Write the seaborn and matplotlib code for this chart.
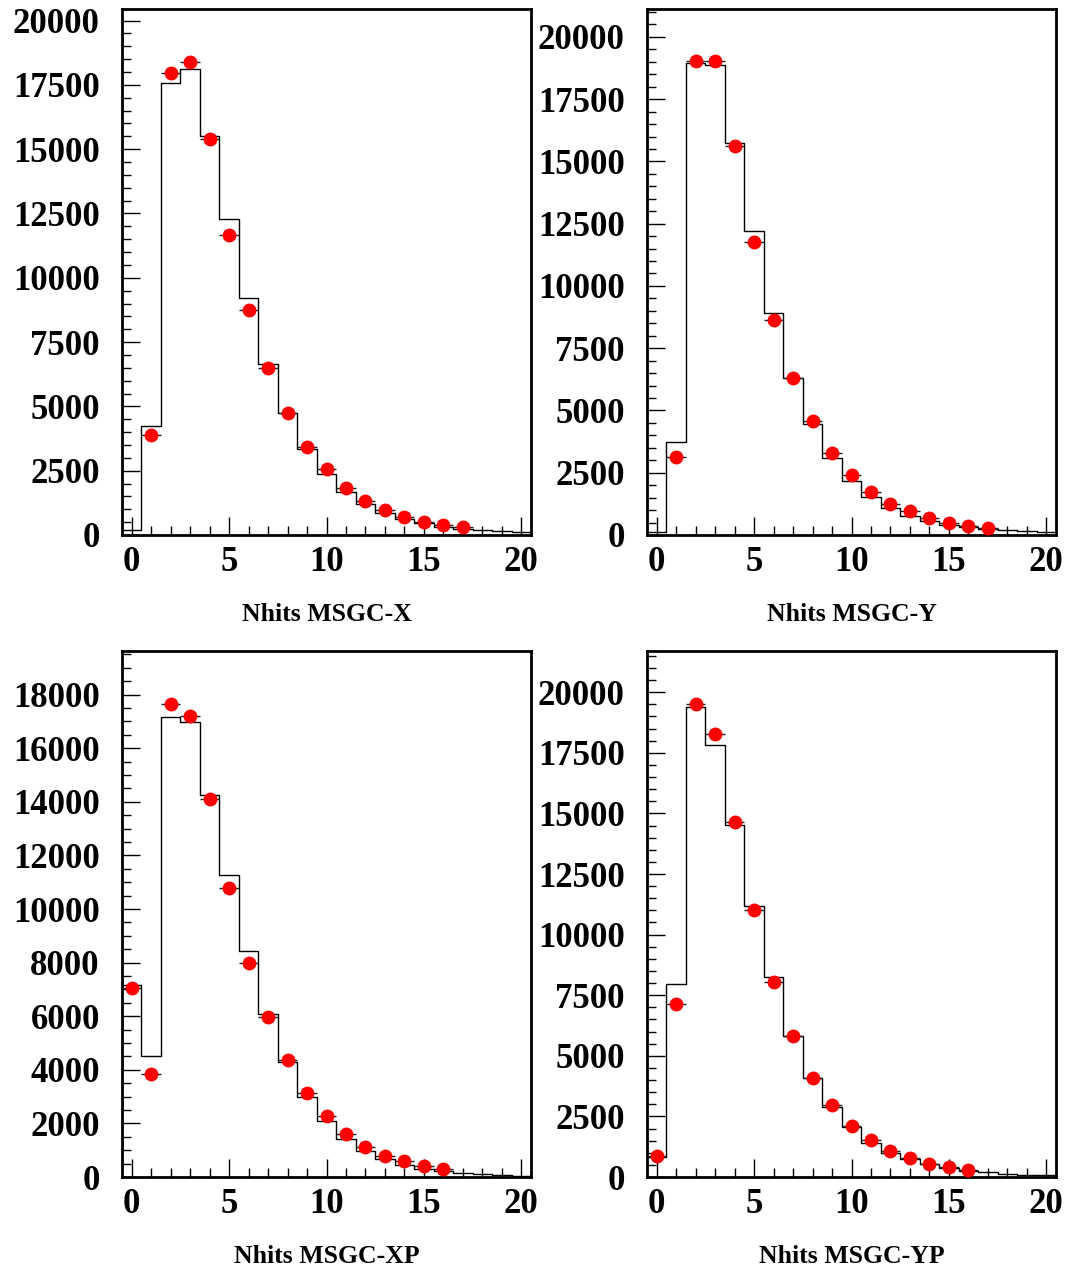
import numpy as np
import pandas as pd
import matplotlib
matplotlib.use("Agg")
import matplotlib.pyplot as plt
from matplotlib.ticker import MultipleLocator
import seaborn as sns

# bin contents (bins centred on 0..20, width 1) - simulation histogram
nbins = np.arange(0, 21)
hist_x = [200, 4220, 17560, 18130, 15525, 12290, 9230, 6650, 4730, 3330, 2370,
          1660, 1190, 840, 620, 455, 325, 233, 195, 140, 100]
hist_y = [125, 3740, 18950, 18860, 15740, 12210, 8930, 6320, 4450, 3100, 2160,
          1510, 1090, 770, 570, 420, 310, 245, 195, 155, 115]
hist_xp = [7160, 4500, 17170, 16970, 14240, 11270, 8440, 6090, 4290, 3000, 2090,
           1410, 975, 690, 465, 315, 215, 165, 115, 65, 30]
hist_yp = [810, 7960, 19380, 17840, 14520, 11170, 8240, 5820, 4080, 2870, 2050,
           1400, 1005, 730, 525, 370, 262, 193, 138, 96, 69]

# data points
pts_x_n = np.arange(1, 18)
pts_x = [3890, 17950, 18390, 15385, 11660, 8740, 6500, 4750, 3430, 2550, 1840,
         1330, 970, 710, 520, 390, 300]
pts_y_n = np.arange(1, 18)
pts_y = [3140, 19015, 19015, 15600, 11780, 8630, 6290, 4570, 3300, 2390, 1720,
         1240, 960, 700, 500, 365, 275]
pts_xp_n = np.arange(0, 17)
pts_xp = [7050, 3830, 17670, 17210, 14120, 10800, 8000, 5970, 4350, 3140, 2260,
          1590, 1125, 800, 600, 400, 300]
pts_yp_n = np.arange(0, 17)
pts_yp = [855, 7150, 19530, 18280, 14640, 11010, 8060, 5820, 4100, 2950, 2110,
          1515, 1060, 785, 550, 413, 275]

titles = ["Nhits MSGC-X", "Nhits MSGC-Y", "Nhits MSGC-XP", "Nhits MSGC-YP"]
ymax = [20450, 21120, 19630, 21700]
ymajor = [2500, 2500, 2000, 2500]

sns.set_style("ticks")
plt.rcParams["font.family"] = ["Liberation Serif", "DejaVu Serif"]
plt.rcParams["font.weight"] = "bold"
plt.rcParams["text.color"] = "black"
plt.rcParams["axes.labelcolor"] = "black"
plt.rcParams["xtick.color"] = "black"
plt.rcParams["ytick.color"] = "black"

fig = plt.figure(figsize=(10.68, 12.72), dpi=100)
W, H = 1068, 1272
boxes = [(122, 9), (647, 9), (122, 651), (647, 651)]
aw, ah = 409, 526

panels = [(hist_x, pts_x_n, pts_x), (hist_y, pts_y_n, pts_y),
          (hist_xp, pts_xp_n, pts_xp), (hist_yp, pts_yp_n, pts_yp)]

for i, (hist, px, py) in enumerate(panels):
    l, t = boxes[i]
    ax = fig.add_axes([l / W, 1 - (t + ah) / H, aw / W, ah / H])
    df = pd.DataFrame({"n": nbins, "count": hist})
    sns.histplot(data=df, x="n", weights="count", discrete=True,
                 element="step", fill=False, color="black", linewidth=1.0,
                 ax=ax)
    ax.errorbar(px, py, xerr=0.5, fmt="none", ecolor="#222222",
                elinewidth=1.0, zorder=3)
    sns.scatterplot(x=px, y=py, color="red", s=100, linewidth=0,
                    ax=ax, zorder=4)
    ax.set_xlim(-0.5, 20.5)
    ax.set_ylim(0, ymax[i])
    ax.xaxis.set_major_locator(MultipleLocator(5))
    ax.xaxis.set_minor_locator(MultipleLocator(1))
    ax.yaxis.set_major_locator(MultipleLocator(ymajor[i]))
    ax.yaxis.set_minor_locator(MultipleLocator(500))
    ax.tick_params(which="both", direction="in", top=False, right=False,
                   width=1.0, color="black", labelcolor="black")
    ax.tick_params(which="major", length=13)
    ax.tick_params(which="minor", length=6.5)
    ax.tick_params(axis="y", which="major", pad=16, labelsize=25)
    ax.tick_params(axis="x", which="major", pad=8, labelsize=25)
    for lab in ax.get_xticklabels() + ax.get_yticklabels():
        lab.set_fontweight("bold")
    for s in ax.spines.values():
        s.set_linewidth(2.0)
        s.set_color("black")
    ax.set_ylabel("")
    ax.set_xlabel(titles[i], fontsize=18.5, fontweight="bold", labelpad=17,
                  color="black")

fig.savefig("out.png", dpi=100, facecolor="white")
